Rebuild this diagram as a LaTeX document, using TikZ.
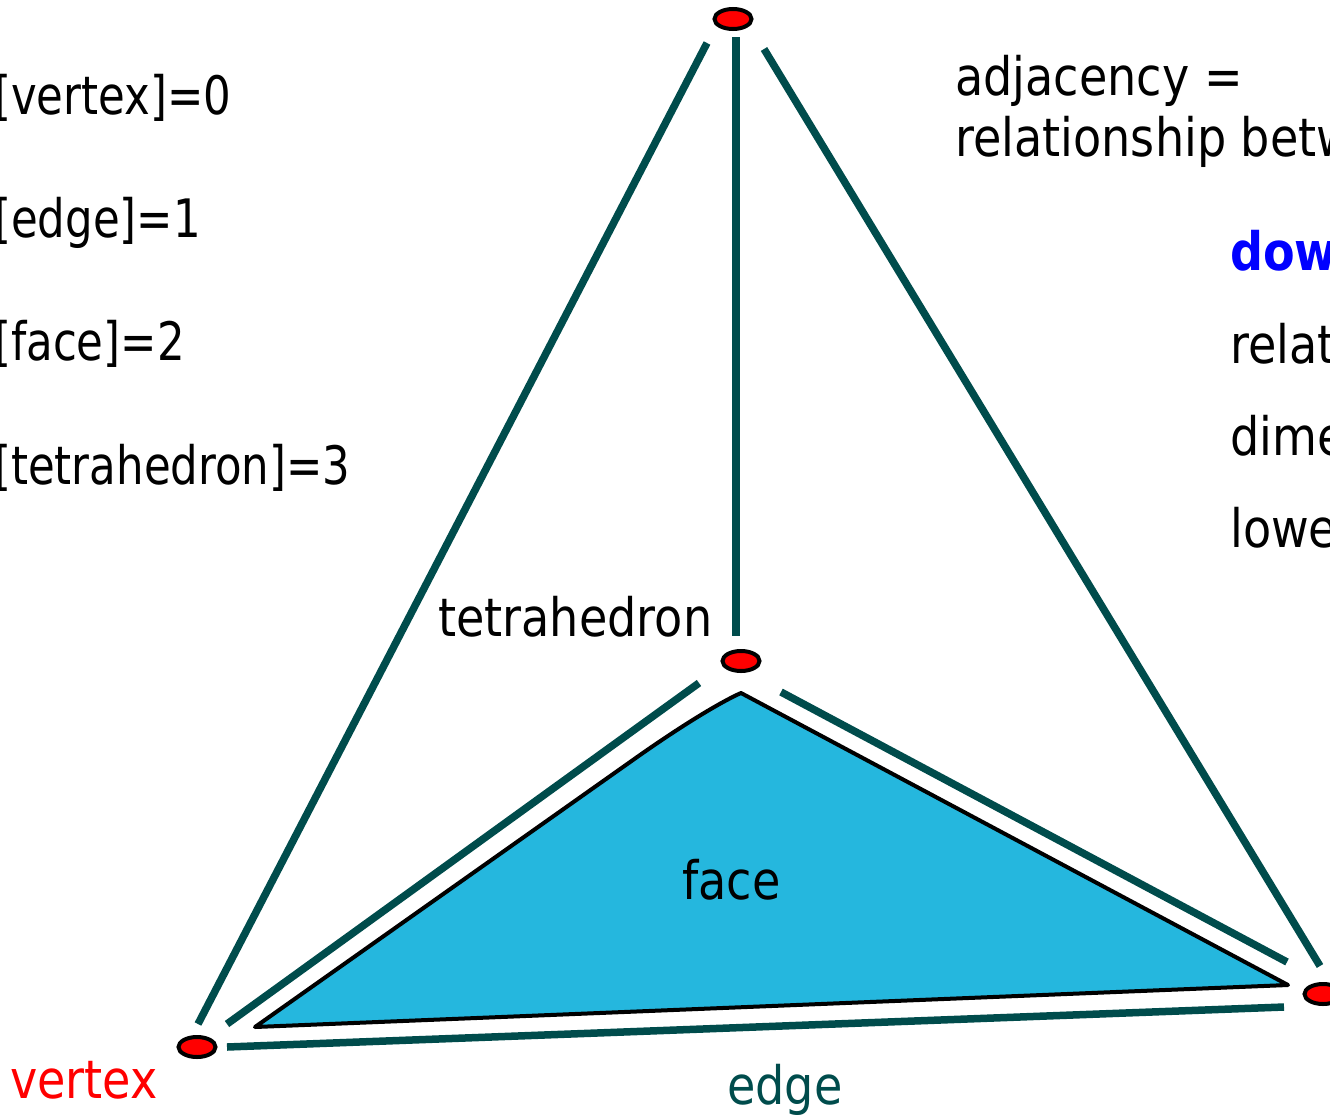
\documentclass[tikz,border=0pt]{standalone}
\usepackage{fontspec}
\setmainfont[FakeStretch=0.87]{DejaVu Sans}
\newfontfamily\dimfont[FakeStretch=0.82]{DejaVu Sans}
\usepackage{xcolor}
\definecolor{tetgreen}{RGB}{0,76,76}
\definecolor{tetcyan}{RGB}{37,183,222}
\definecolor{tetblue}{RGB}{0,0,255}
\definecolor{tetred}{RGB}{255,0,0}
\usetikzlibrary{shapes.geometric}
\tikzset{
  vertexdot/.style={ellipse,draw=black,fill=tetred,line width=4pt,minimum width=37pt,minimum height=20pt,inner sep=0pt},
  edgeline/.style={tetgreen,line width=7.5pt},
  label/.style={anchor=base west,inner sep=0pt,font=\fontsize{53}{53}\selectfont},
  dimlabel/.style={label,font=\fontsize{53}{53}\selectfont\dimfont}
}
\begin{document}
\begin{tikzpicture}[x=1pt,y=-1pt]
  \useasboundingbox (0,0) rectangle (1330,1114);
  \clip (0,0) rectangle (1330,1114);
  % Face
  \draw[fill=tetcyan,line width=4pt,line join=round] (255,1027) -- (640,755) .. controls (690,720) and (725,700) .. (741,693) -- (1288,985) -- cycle;
  % Vertices
  \node[vertexdot] (top) at (733,19) {};
  \node[vertexdot] (mid) at (741,661) {};
  \node[vertexdot] (left) at (197,1047) {};
  \node[vertexdot] (right) at (1323,994) {};
  % Edges
  \foreach \n/\x/\y in {
    topA/707/43, leftA/198/1024,
    topB/736/37, midB/736/636,
    topC/764/49, rightC/1320/966,
    midD/699/683, leftD/227/1024,
    midE/781/692, rightE/1287/962,
    leftF/227/1047, rightF/1284/1007}{
    \coordinate (\n) at (\x,\y);
  }
  \foreach \a/\b in {topA/leftA,topB/midB,topC/rightC,midD/leftD,midE/rightE,leftF/rightF}{
    \draw[edgeline] (\a) -- (\b);
  }
  % Dimension labels
  \foreach \n/\y/\txt in {
    dimV/114/{[vertex]=0},
    dimE/237/{[edge]=1},
    dimF/360/{[face]=2},
    dimT/484/{[tetrahedron]=3}}{
    \node[dimlabel] (\n) at (-6,\y) {\txt};
  }
  % Adjacency text
  \node[label] (adjA) at (955,95) {adjacency =};
  \node[label] (adjB) at (955,156) {relationship betw};
  \node[label,tetblue,font=\fontsize{53}{53}\selectfont\bfseries] (downA) at (1230,270) {dow};
  \foreach \n/\y/\txt in {downB/363/relat,downC/455/dime,downD/547/lowe}{
    \node[label] (\n) at (1230,\y) {\txt};
  }
  % Names
  \node[label] (tetname) at (438,636) {tetrahedron};
  \node[label] (facename) at (682,899) {face};
  \node[label,tetred] (vertname) at (10,1098) {vertex};
  \node[label,tetgreen] (edgename) at (727,1104) {edge};
\end{tikzpicture}
\end{document}
